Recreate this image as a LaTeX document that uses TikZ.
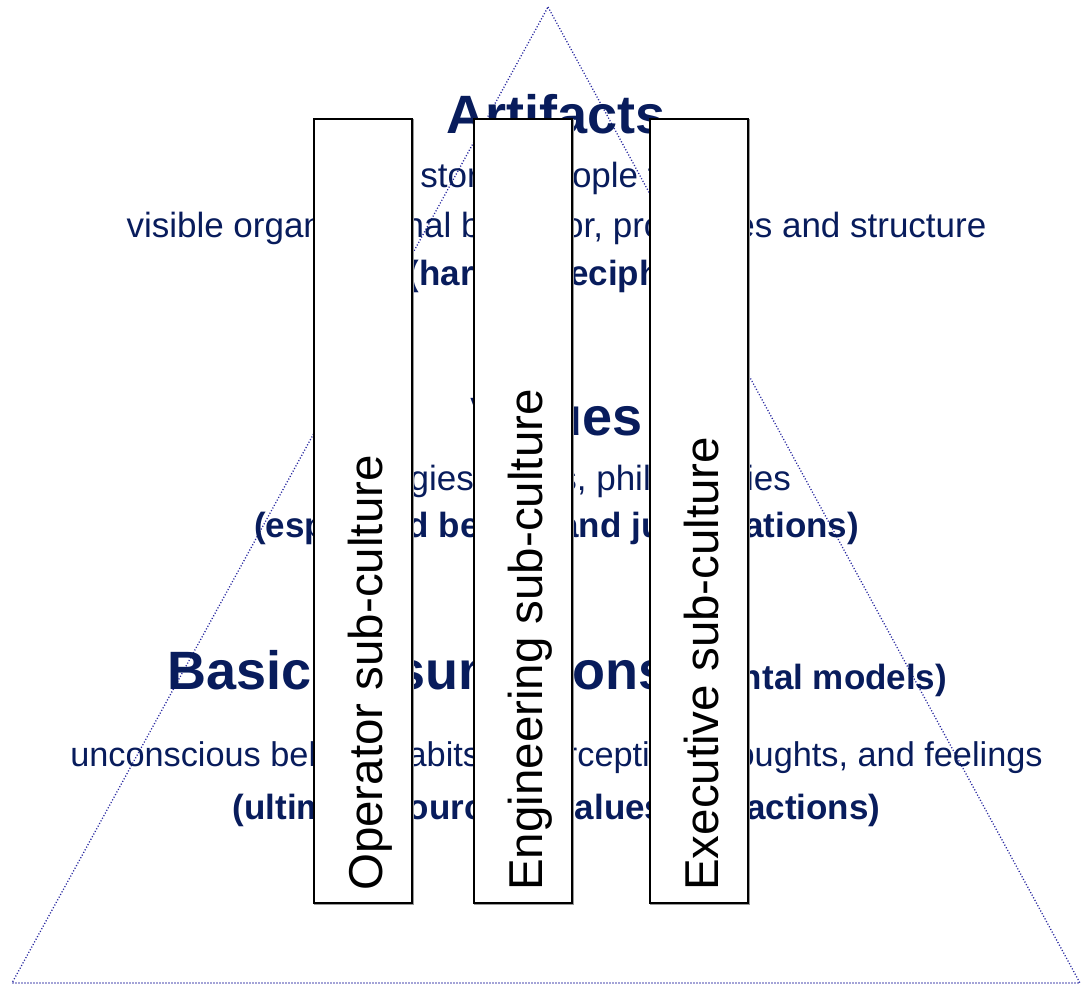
\documentclass[tikz,border=0pt]{standalone}
\usepackage{fontspec}
\setmainfont{Liberation Sans}
\usetikzlibrary{shadows}
\definecolor{navy}{RGB}{8,28,92}
\definecolor{dotblue}{RGB}{40,40,160}
\newcommand{\bigsz}{\fontsize{54bp}{60bp}\selectfont\bfseries}
\newcommand{\txtsz}{\fontsize{35bp}{40bp}\selectfont}
\newcommand{\txtszb}{\fontsize{34.3bp}{40bp}\selectfont}
\newcommand{\lblsz}{\fontsize{47.5bp}{52bp}\selectfont}
\begin{document}
\begin{tikzpicture}[x=1bp,y=-1bp,
  title/.style={anchor=base, inner sep=0pt, text=navy, font=\bigsz},
  txtline/.style={anchor=base, inner sep=0pt, text=navy, font=\txtsz},
  boldline/.style={anchor=base, inner sep=0pt, text=navy, font=\txtsz\bfseries},
  subbox/.style={draw=black, line width=1.5bp, fill=white, minimum width=98bp,
    minimum height=784bp, inner sep=0pt, outer sep=0pt,
    copy shadow={shadow xshift=1.2bp, shadow yshift=-1.2bp, draw=gray!80, fill=gray!80}},
  sublabel/.style={anchor=base west, rotate=90, inner sep=0pt, font=\lblsz, text=black},
  tri/.style={draw=dotblue, line width=1.3bp, dash pattern=on 1.1bp off 1.9bp}]

\useasboundingbox (0,0) rectangle (1083,991);

% triangle
\coordinate (apex) at (548,7);
\coordinate (bl) at (12,983);
\coordinate (br) at (1080,983);
\draw[tri] (apex) -- (br) -- (bl) -- cycle;

% Artifacts level
\node[title] (art) at (556.5,133) {Artifacts};
\node[txtline] (art1) at (556.5,187) {stories people tell};
\node[txtline] (art2) at (556.5,237) {visible organizational behavior, processes and structure};
\node[boldline] (art3) at (556.5,285) {(hard to decipher)};

% Values level
\node[title] (val) at (556.5,435) {Values};
\node[txtline] (val1) at (556.5,490) {strategies, goals, philosophies};
\node[boldline] (val2) at (556.5,537) {(espoused beliefs and justifications)};

% Basic assumptions level
\node[title] (bas) at (557.5,689) {Basic Assumptions{\txtsz\bfseries\ (mental models)}};
\node[txtline, font=\txtszb] (bas1) at (556.5,766) {unconscious beliefs, habits of perception, thoughts, and feelings};
\node[boldline] (bas2) at (556.5,819) {(ultimate source of values and actions)};

% sub-culture columns
\node[subbox] (op) at (363,511) {};
\node[subbox] (eng) at (523,511) {};
\node[subbox] (exe) at (699,511) {};
\node[sublabel] (oplbl) at (382,891) {Operator sub-culture};
\node[sublabel] (englbl) at (542,891) {Engineering sub-culture};
\node[sublabel] (exelbl) at (718,891) {Executive sub-culture};
\end{tikzpicture}
\end{document}
